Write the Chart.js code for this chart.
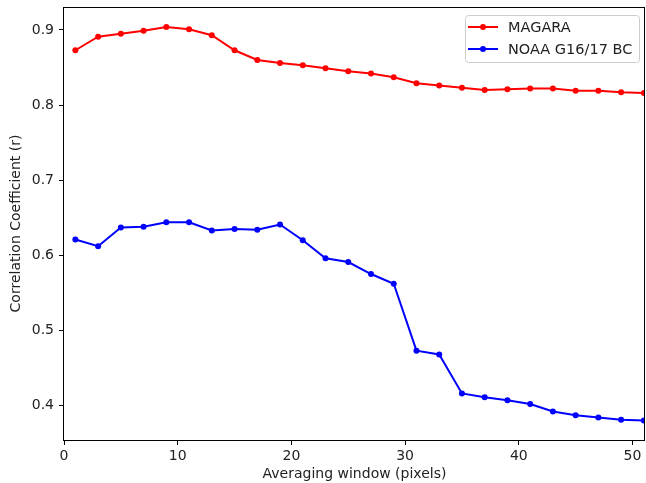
<!DOCTYPE html>
<html>
<head>
<meta charset="utf-8">
<script src="https://cdn.jsdelivr.net/npm/chart.js@4.4.0/dist/chart.umd.min.js"></script>
<style>
  html, body { margin: 0; padding: 0; background: #fff; }
  #wrap { width: 646px; height: 483px; }
</style>
</head>
<body>
<div id="wrap"><canvas id="myLineChart" width="646" height="483"></canvas></div>
<script>
var windows = [1, 3, 5, 7, 9, 11, 13, 15, 17, 19, 21, 23, 25, 27, 29, 31, 33, 35, 37, 39, 41, 43, 45, 47, 49, 51];
var magara = [0.873, 0.891, 0.895, 0.899, 0.904, 0.901, 0.893, 0.873, 0.860, 0.856, 0.853, 0.849, 0.845,
              0.842, 0.837, 0.829, 0.826, 0.823, 0.820, 0.821, 0.822, 0.822, 0.819, 0.819, 0.817, 0.816];
var noaa = [0.621, 0.612, 0.637, 0.638, 0.644, 0.644, 0.633, 0.635, 0.634, 0.641, 0.620, 0.596, 0.591,
            0.575, 0.562, 0.473, 0.468, 0.416, 0.411, 0.407, 0.402, 0.392, 0.387, 0.384, 0.381, 0.380];
var xTicks = [0, 10, 20, 30, 40, 50];
var yTicks = [0.4, 0.5, 0.6, 0.7, 0.8, 0.9];

var FONT = 'DejaVu Sans';

function toPoints(ys) {
  return windows.map(function (x, i) { return { x: x, y: ys[i] }; });
}

function noPadding(s) {
  s.paddingLeft = 0;
  s.paddingRight = 0;
  s.paddingTop = 0;
  s.paddingBottom = 0;
}

// black frame around the plot area
var framePlugin = {
  id: 'frame',
  afterDraw: function (chart) {
    var a = chart.chartArea, c = chart.ctx;
    c.save();
    c.strokeStyle = '#000';
    c.lineWidth = 1;
    c.strokeRect(Math.round(a.left) - 0.5, Math.round(a.top) + 0.5,
                 Math.round(a.right - a.left), Math.round(a.bottom - a.top));
    c.restore();
  }
};

// matplotlib-style legend box in the top right corner
var legendPlugin = {
  id: 'boxLegend',
  afterDraw: function (chart) {
    var c = chart.ctx;
    var x0 = 465, y0 = 15, w = 174, h = 47;
    c.save();
    c.fillStyle = 'rgba(255,255,255,0.8)';
    c.strokeStyle = '#cccccc';
    c.lineWidth = 1;
    c.beginPath();
    c.roundRect(x0 + 0.5, y0 + 0.5, w, h, 3);
    c.fill();
    c.stroke();
    chart.data.datasets.forEach(function (ds, i) {
      var y = y0 + 12 + i * 22;
      c.strokeStyle = ds.borderColor;
      c.lineWidth = 2;
      c.beginPath();
      c.moveTo(468, y);
      c.lineTo(498, y);
      c.stroke();
      c.fillStyle = ds.borderColor;
      c.beginPath();
      c.arc(483, y, 3, 0, Math.PI * 2);
      c.fill();
      c.fillStyle = '#222';
      c.font = '14.5px "' + FONT + '"';
      c.textBaseline = 'middle';
      c.fillText(ds.label, 508, y + 1);
    });
    c.restore();
  }
};

var ctx = document.getElementById('myLineChart');
var myLineChart = new Chart(ctx, {
  type: 'line',
  data: {
    datasets: [{
      label: 'MAGARA',
      data: toPoints(magara),
      borderColor: '#ff0000',
      backgroundColor: '#ff0000',
      borderWidth: 2,
      pointRadius: 3,
      pointBorderWidth: 0,
      tension: 0
    }, {
      label: 'NOAA G16/17 BC',
      data: toPoints(noaa),
      borderColor: '#0000ff',
      backgroundColor: '#0000ff',
      borderWidth: 2,
      pointRadius: 3,
      pointBorderWidth: 0,
      tension: 0
    }]
  },
  options: {
    responsive: false,
    animation: false,
    layout: { autoPadding: false, padding: { top: 7, right: 1, left: 0, bottom: 0 } },
    scales: {
      x: {
        type: 'linear',
        min: 0,
        max: 51.1,
        afterFit: function (s) { s.height = 43; noPadding(s); },
        afterBuildTicks: function (s) { s.ticks = xTicks.map(function (v) { return { value: v }; }); },
        border: { display: false },
        grid: { display: true, drawOnChartArea: false, drawTicks: true, tickLength: 5, color: '#000' },
        ticks: { color: '#222', font: { family: FONT, size: 14 }, padding: 3, maxRotation: 0 },
        title: {
          display: true,
          text: 'Averaging window (pixels)',
          color: '#222',
          font: { family: FONT, size: 14 },
          padding: { top: 0, bottom: 0 }
        }
      },
      y: {
        min: 0.354,
        max: 0.9306,
        afterFit: function (s) { s.width = 64; noPadding(s); },
        afterBuildTicks: function (s) { s.ticks = yTicks.map(function (v) { return { value: v }; }); },
        border: { display: false },
        grid: { display: true, drawOnChartArea: false, drawTicks: true, tickLength: 5, color: '#000' },
        ticks: {
          color: '#222',
          font: { family: FONT, size: 14 },
          padding: 5,
          callback: function (v) { return v.toFixed(1); }
        },
        title: {
          display: true,
          text: 'Correlation Coefficient (r)',
          color: '#222',
          font: { family: FONT, size: 14 },
          padding: { top: 8, bottom: 0 }
        }
      }
    },
    plugins: {
      legend: { display: false },
      tooltip: { enabled: false }
    }
  },
  plugins: [framePlugin, legendPlugin]
});
</script>
</body>
</html>
